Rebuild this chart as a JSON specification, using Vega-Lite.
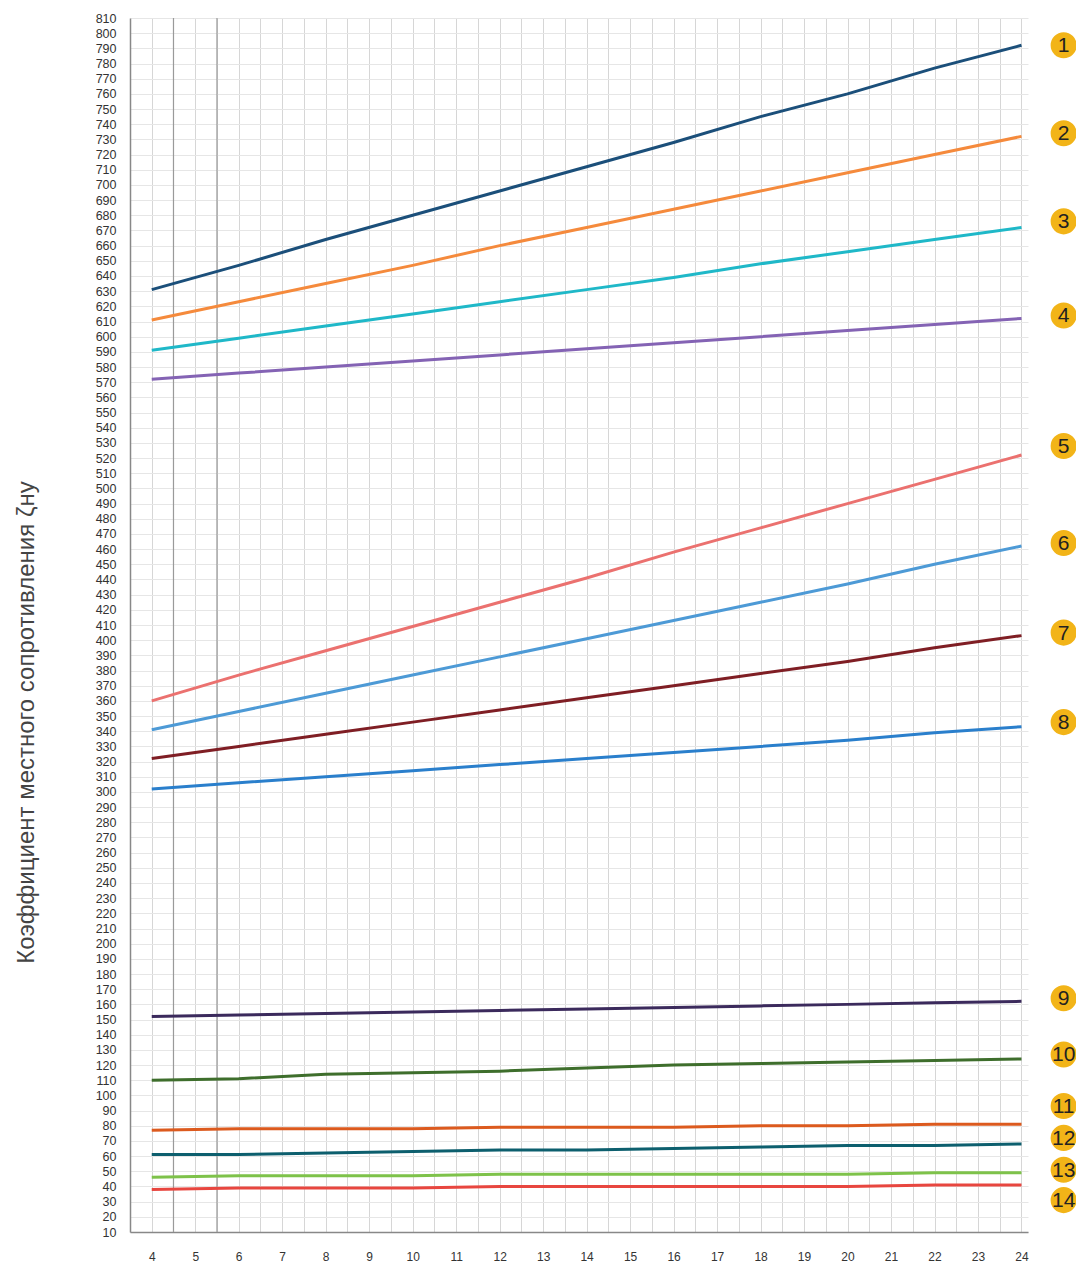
{
  "$schema": "https://vega.github.io/schema/vega-lite/v6.json",
  "width": 898,
  "height": 1214,
  "autosize": "none",
  "padding": {"left": 130, "top": 18, "right": 48, "bottom": 32},
  "background": "white",
  "config": {
    "view": {"stroke": null},
    "font": "Liberation Sans",
    "axis": {"labelOverlap": false, "labelBound": false, "labelFlush": false}
  },
  "datasets": {
    "lines": [
      {"s":1,"x":4,"y":631},{"s":1,"x":6,"y":647},{"s":1,"x":8,"y":664},{"s":1,"x":10,"y":680},{"s":1,"x":12,"y":696},{"s":1,"x":14,"y":712},{"s":1,"x":16,"y":728},{"s":1,"x":18,"y":745},{"s":1,"x":20,"y":760},{"s":1,"x":22,"y":777},{"s":1,"x":24,"y":792},
      {"s":2,"x":4,"y":611},{"s":2,"x":6,"y":623},{"s":2,"x":8,"y":635},{"s":2,"x":10,"y":647},{"s":2,"x":12,"y":660},{"s":2,"x":14,"y":672},{"s":2,"x":16,"y":684},{"s":2,"x":18,"y":696},{"s":2,"x":20,"y":708},{"s":2,"x":22,"y":720},{"s":2,"x":24,"y":732},
      {"s":3,"x":4,"y":591},{"s":3,"x":6,"y":599},{"s":3,"x":8,"y":607},{"s":3,"x":10,"y":615},{"s":3,"x":12,"y":623},{"s":3,"x":14,"y":631},{"s":3,"x":16,"y":639},{"s":3,"x":18,"y":648},{"s":3,"x":20,"y":656},{"s":3,"x":22,"y":664},{"s":3,"x":24,"y":672},
      {"s":4,"x":4,"y":572},{"s":4,"x":6,"y":576},{"s":4,"x":8,"y":580},{"s":4,"x":10,"y":584},{"s":4,"x":12,"y":588},{"s":4,"x":14,"y":592},{"s":4,"x":16,"y":596},{"s":4,"x":18,"y":600},{"s":4,"x":20,"y":604},{"s":4,"x":22,"y":608},{"s":4,"x":24,"y":612},
      {"s":5,"x":4,"y":360},{"s":5,"x":6,"y":377},{"s":5,"x":8,"y":393},{"s":5,"x":10,"y":409},{"s":5,"x":12,"y":425},{"s":5,"x":14,"y":441},{"s":5,"x":16,"y":458},{"s":5,"x":18,"y":474},{"s":5,"x":20,"y":490},{"s":5,"x":22,"y":506},{"s":5,"x":24,"y":522},
      {"s":6,"x":4,"y":341},{"s":6,"x":6,"y":353},{"s":6,"x":8,"y":365},{"s":6,"x":10,"y":377},{"s":6,"x":12,"y":389},{"s":6,"x":14,"y":401},{"s":6,"x":16,"y":413},{"s":6,"x":18,"y":425},{"s":6,"x":20,"y":437},{"s":6,"x":22,"y":450},{"s":6,"x":24,"y":462},
      {"s":7,"x":4,"y":322},{"s":7,"x":6,"y":330},{"s":7,"x":8,"y":338},{"s":7,"x":10,"y":346},{"s":7,"x":12,"y":354},{"s":7,"x":14,"y":362},{"s":7,"x":16,"y":370},{"s":7,"x":18,"y":378},{"s":7,"x":20,"y":386},{"s":7,"x":22,"y":395},{"s":7,"x":24,"y":403},
      {"s":8,"x":4,"y":302},{"s":8,"x":6,"y":306},{"s":8,"x":8,"y":310},{"s":8,"x":10,"y":314},{"s":8,"x":12,"y":318},{"s":8,"x":14,"y":322},{"s":8,"x":16,"y":326},{"s":8,"x":18,"y":330},{"s":8,"x":20,"y":334},{"s":8,"x":22,"y":339},{"s":8,"x":24,"y":343},
      {"s":9,"x":4,"y":152},{"s":9,"x":6,"y":153},{"s":9,"x":8,"y":154},{"s":9,"x":10,"y":155},{"s":9,"x":12,"y":156},{"s":9,"x":14,"y":157},{"s":9,"x":16,"y":158},{"s":9,"x":18,"y":159},{"s":9,"x":20,"y":160},{"s":9,"x":22,"y":161},{"s":9,"x":24,"y":162},
      {"s":10,"x":4,"y":110},{"s":10,"x":6,"y":111},{"s":10,"x":8,"y":114},{"s":10,"x":10,"y":115},{"s":10,"x":12,"y":116},{"s":10,"x":14,"y":118},{"s":10,"x":16,"y":120},{"s":10,"x":18,"y":121},{"s":10,"x":20,"y":122},{"s":10,"x":22,"y":123},{"s":10,"x":24,"y":124},
      {"s":11,"x":4,"y":77},{"s":11,"x":6,"y":78},{"s":11,"x":8,"y":78},{"s":11,"x":10,"y":78},{"s":11,"x":12,"y":79},{"s":11,"x":14,"y":79},{"s":11,"x":16,"y":79},{"s":11,"x":18,"y":80},{"s":11,"x":20,"y":80},{"s":11,"x":22,"y":81},{"s":11,"x":24,"y":81},
      {"s":12,"x":4,"y":61},{"s":12,"x":6,"y":61},{"s":12,"x":8,"y":62},{"s":12,"x":10,"y":63},{"s":12,"x":12,"y":64},{"s":12,"x":14,"y":64},{"s":12,"x":16,"y":65},{"s":12,"x":18,"y":66},{"s":12,"x":20,"y":67},{"s":12,"x":22,"y":67},{"s":12,"x":24,"y":68},
      {"s":13,"x":4,"y":46},{"s":13,"x":6,"y":47},{"s":13,"x":8,"y":47},{"s":13,"x":10,"y":47},{"s":13,"x":12,"y":48},{"s":13,"x":14,"y":48},{"s":13,"x":16,"y":48},{"s":13,"x":18,"y":48},{"s":13,"x":20,"y":48},{"s":13,"x":22,"y":49},{"s":13,"x":24,"y":49},
      {"s":14,"x":4,"y":38},{"s":14,"x":6,"y":39},{"s":14,"x":8,"y":39},{"s":14,"x":10,"y":39},{"s":14,"x":12,"y":40},{"s":14,"x":14,"y":40},{"s":14,"x":16,"y":40},{"s":14,"x":18,"y":40},{"s":14,"x":20,"y":40},{"s":14,"x":22,"y":41},{"s":14,"x":24,"y":41}
    ],
    "badges": [
      {"n":"1","x":24.97,"y":792},{"n":"2","x":24.97,"y":734},{"n":"3","x":24.97,"y":676},{"n":"4","x":24.97,"y":614},
      {"n":"5","x":24.97,"y":528},{"n":"6","x":24.97,"y":464},{"n":"7","x":24.97,"y":405},{"n":"8","x":24.97,"y":346},
      {"n":"9","x":24.97,"y":164},{"n":"10","x":24.97,"y":127},{"n":"11","x":24.97,"y":93},{"n":"12","x":24.97,"y":72},
      {"n":"13","x":24.97,"y":51},{"n":"14","x":24.97,"y":31}
    ],
    "marks": [{"x":4.5},{"x":5.5}]
  },
  "layer": [
    {
      "data": {"name": "marks"},
      "mark": {"type": "rule", "color": "#9a9a9a", "strokeWidth": 1.2},
      "encoding": {
        "x": {"field": "x", "type": "quantitative", "scale": {"domain": [3.5, 24.15], "nice": false, "zero": false},
          "axis": {
            "values": [4,4.5,5,5.5,6,6.5,7,7.5,8,8.5,9,9.5,10,10.5,11,11.5,12,12.5,13,13.5,14,14.5,15,15.5,16,16.5,17,17.5,18,18.5,19,19.5,20,20.5,21,21.5,22,22.5,23,23.5,24],
            "tickCount": 100,
            "labelExpr": "datum.value % 1 == 0 ? format(datum.value, 'd') : ''",
            "title": null, "grid": true, "gridColor": "#d6d6d6", "gridWidth": 1,
            "ticks": false, "labelPadding": 19, "labelFontSize": 12, "labelColor": "#333",
            "domainColor": "#888", "domainWidth": 1.5
          }
        }
      }
    },
    {
      "data": {"name": "lines"},
      "mark": {"type": "line", "strokeWidth": 3},
      "encoding": {
        "x": {"field": "x", "type": "quantitative"},
        "y": {"field": "y", "type": "quantitative", "scale": {"domain": [10, 810], "nice": false, "zero": false},
          "axis": {
            "values": [10,20,30,40,50,60,70,80,90,100,110,120,130,140,150,160,170,180,190,200,210,220,230,240,250,260,270,280,290,300,310,320,330,340,350,360,370,380,390,400,410,420,430,440,450,460,470,480,490,500,510,520,530,540,550,560,570,580,590,600,610,620,630,640,650,660,670,680,690,700,710,720,730,740,750,760,770,780,790,800,810],
            "tickCount": 200,
            "format": "d",
            "title": "Коэффициент местного сопротивления ζну",
            "titleFontSize": 24, "titleFontWeight": "normal", "titleColor": "#444",
            "titleX": -92, "titleY": 704, "titleAngle": -90, "titleAlign": "center", "titleBaseline": "bottom",
            "grid": true, "gridColor": "#e6e6e6", "gridWidth": 1,
            "ticks": false, "labelPadding": 14, "labelFontSize": 12.5, "labelColor": "#333",
            "domainColor": "#888", "domainWidth": 1.5
          }
        },
        "color": {"field": "s", "type": "nominal", "legend": null,
          "scale": {"domain": [1,2,3,4,5,6,7,8,9,10,11,12,13,14],
            "range": ["#1b4f7a","#f58a3c","#1fb8c8","#8463b4","#eb716f","#4d9ad6","#7f1e24","#2a7fcc","#3b2a5c","#3e6e2c","#dc5a1e","#0d5f6e","#7ec24a","#e8463f"]}},
        "detail": {"field": "s"}
      }
    },
    {
      "data": {"name": "badges"},
      "mark": {"type": "point", "filled": true, "shape": "circle", "size": 680, "color": "#f2b418", "opacity": 1},
      "encoding": {
        "x": {"field": "x", "type": "quantitative"},
        "y": {"field": "y", "type": "quantitative"}
      }
    },
    {
      "data": {"name": "badges"},
      "mark": {"type": "text", "fontSize": 21, "color": "#222", "align": "center", "baseline": "middle", "dy": 1},
      "encoding": {
        "x": {"field": "x", "type": "quantitative"},
        "y": {"field": "y", "type": "quantitative"},
        "text": {"field": "n"}
      }
    }
  ]
}
